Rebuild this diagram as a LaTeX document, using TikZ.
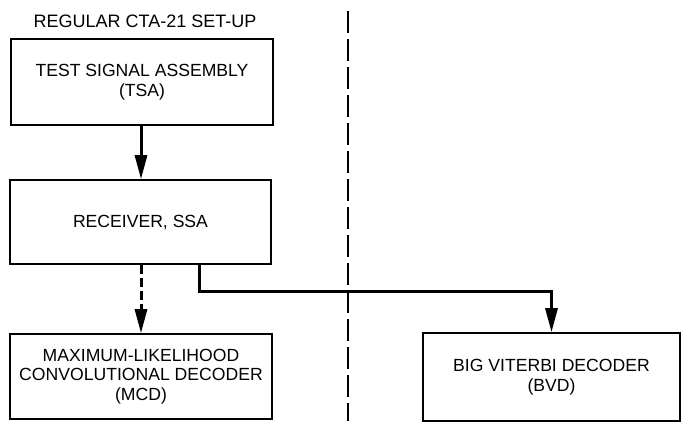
\documentclass[tikz,border=0pt]{standalone}
\usepackage{fontspec}
\setmainfont{Liberation Sans}
\usepackage{tikz}
\usetikzlibrary{arrows.meta,positioning}

\begin{document}
\begin{tikzpicture}[x=1pt,y=1pt,
    unitbox/.style={draw,line width=1.6pt,inner sep=0pt,align=center,
      font=\fontsize{17.6}{19.5}\selectfont},
    flow/.style={line width=3pt,-{Triangle[length=24pt,width=12pt]}},
    border/.style={line width=2pt,dash pattern=on 22pt off 6pt}]
  \useasboundingbox (0,0) rectangle (681,-425);
  % left side: regular set-up
  \node[font=\fontsize{18}{20}\selectfont] (title) at (145,-21) {REGULAR CTA-21 SET-UP};
  \node[unitbox,minimum width=262pt,minimum height=86pt] (tsa) at (142,-82)
    {TEST SIGNAL ASSEMBLY\\(TSA)};
  \node[unitbox,minimum width=261pt,minimum height=84pt] (rcv) at (140.5,-222)
    {RECEIVER, SSA};
  \node[unitbox,minimum width=262pt,minimum height=85pt] (mcd) at (141,-376.5)
    {MAXIMUM-LIKELIHOOD\\CONVOLUTIONAL DECODER\\(MCD)};
  % right side
  \node[unitbox,minimum width=257pt,minimum height=88pt] (bvd) at (551.5,-377)
    {BIG VITERBI DECODER\\(BVD)};
  \coordinate (top) at (348,-11);
  \coordinate (bot) at (348,-421);
  \draw[border] (top) -- (bot);
  % connectors
  \coordinate (mainx) at (141,0);
  \coordinate (splitx) at (199,0);
  \coordinate (runy) at (0,-292);
  \draw[flow] (tsa.south -| mainx) -- (rcv.north -| mainx);
  \draw[flow,dash pattern=on 9pt off 4pt] (rcv.south -| mainx) -- (mcd.north -| mainx);
  \draw[flow,line join=miter] (rcv.south -| splitx) |- (bvd.north |- runy)
    -- (bvd.north);
\end{tikzpicture}
\end{document}
